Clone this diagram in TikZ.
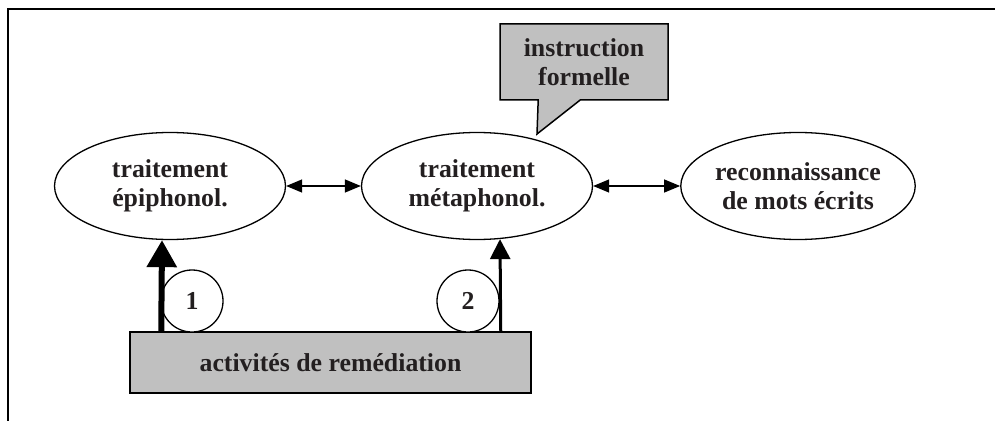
\documentclass[tikz,border=0pt]{standalone}
\usepackage{fontspec}
\setmainfont{Liberation Serif}
\usetikzlibrary{arrows.meta,shapes.geometric,shapes.callouts}
\definecolor{txtgray}{HTML}{231F20}
\definecolor{boxgray}{HTML}{C0C0C0}

\begin{document}
\begin{tikzpicture}[x=1pt, y=1pt,
    every node/.style={font=\fontsize{25.8}{29.5}\selectfont\bfseries, text=txtgray, align=center},
    proc/.style={draw, ellipse, line width=1.3pt, minimum width=231pt, minimum height=107pt, inner sep=0pt},
    graybox/.style={draw, fill=boxgray, line width=1.5pt, inner sep=0pt},
    num/.style={draw, circle, fill=white, line width=1.3pt, minimum size=62pt, inner sep=0pt},
    link/.style={{Triangle[length=16pt,width=13pt]}-{Triangle[length=16pt,width=13pt]}, line width=1.3pt},
    bigarrow/.style={-{Triangle[length=27pt,width=29pt]}, line width=6pt},
    smallarrow/.style={-{Triangle[length=20pt,width=20pt]}, line width=3pt}]
        \useasboundingbox (0,0) rectangle (995,421);

        % cadre
        \draw[line width=1.8pt] (995,412) -- (8,412) -- (8,0);

        \node[proc] (epi) at (170, 235) {traitement\\épiphonol.};
        \node[proc] (meta) at (477, 235) {traitement\\métaphonol.};
        \node[proc] (reco) at (798, 235) {reconnaissance\\de mots écrits};

        \node[graybox, rectangle callout, minimum width=168pt, minimum height=76pt,
              callout absolute pointer={(537,287)}, callout pointer width=42pt] (instr) at (584, 359) {instruction\\formelle};

        \node[graybox, rectangle, minimum width=401pt, minimum height=61pt] (remed) at (330.5, 58.5) {activités de remédiation};

        \node[num] (n1) at (192, 120) {1};
        \node[num] (n2) at (468, 120) {2};

        \draw[link] (epi) -- (meta);
        \draw[link] (meta) -- (reco);

        \draw[bigarrow] ([xshift=32pt]remed.north west) -- ([xshift=-8pt]epi.south);
        \draw[smallarrow] ([xshift=-31pt]remed.north east) -- ([xshift=23pt, yshift=1pt]meta.south);
    \end{tikzpicture}
\end{document}
